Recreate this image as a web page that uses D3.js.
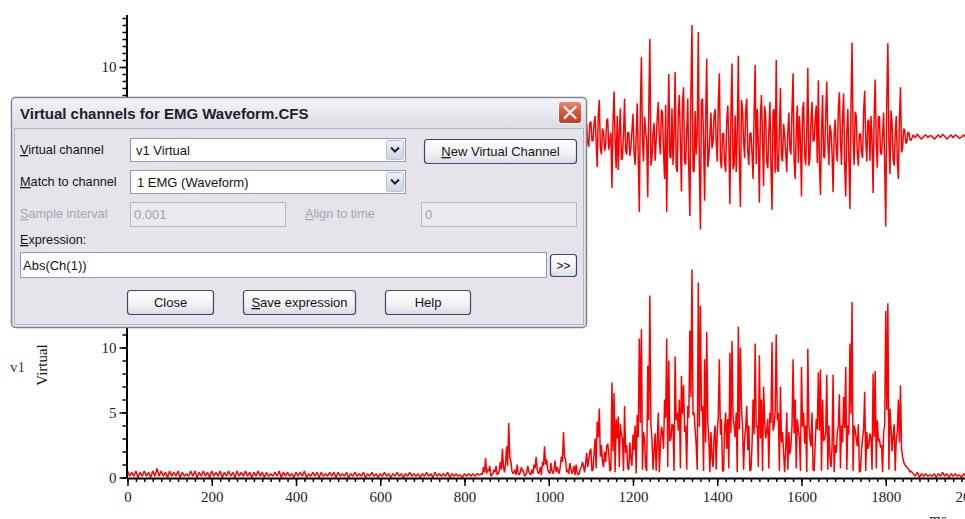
<!DOCTYPE html>
<html><head><meta charset="utf-8">
<script src="https://cdn.jsdelivr.net/npm/d3@7"></script>
<style>body{margin:0;background:#fff;overflow:hidden}svg{display:block}</style>
</head><body>
<svg id="c" width="965" height="519"></svg>
<script>
// ---------------- data (raw EMG, arbitrary units) ----------------
const quietStartMs = 0, quietStepMs = 5;
const quietEMG = [
 0.5,-0.1,0.4,0.1,-0.5,0,0.4,-0.1,0.5,0.1,-0.4,0,0.5,-0.1,0.7,0.1,-0.5,0.1,0.4,0,
 -0.5,0.1,0.4,-0.1,0.5,0,-0.4,0.1,0.3,-0.1,0.5,0.1,-0.5,0,0.4,-0.1,0.5,0.1,-0.4,0,
 0.5,-0.1,0.4,0.1,-0.5,0,0.4,-0.1,0.5,0.1,-0.4,0,0.5,-0.1,0.4,0.1,-0.5,0.1,0.4,0,
 -0.4,0.1,0.5,-0.1,0.4,0,-0.4,0.1,0.3,-0.1,0.4,0.1,-0.5,0,0.4,-0.1,0.4,0.1,-0.3,0,
 0.4,-0.1,0.4,0.1,-0.5,0,0.3,-0.1,0.4,0.1,-0.4,0,0.4,-0.1,0.3,0.1,-0.4,0.1,0.4,0,
 -0.4,0.1,0.3,-0.1,0.4,0,-0.3,0.1,0.4,-0.1,0.3,0.1,-0.4,0,0.3,-0.1,0.4,0.1,-0.3,0,
 0.3,-0.1,0.4,0.1,-0.3,0,0.3,-0.1,0.4,0.1,-0.3,0,0.3,-0.1,0.4,0.1,-0.3,0.1,0.3,0,
 -0.3,0.1,0.4,-0.1,0.3,0,-0.4,0.1,0.3,-0.1,0.3,0.1,-0.4,0,0.3,-0.1,0.3,0.1,-0.2,0,
 0.3,-0.1,0.3,0.1,-0.3,0.1,0.3,-0.2
];
const burstStartMs = 840, burstStepMs = 2.5;
const burstEMG = [
 0.3,-0.2,-0.8,0.4,1.5,-0.3,-0.6,0.5,0.9,-0.1,-0.2,0.3,0.6,-0.4,-0.9,0.2,0.3,-0.5,-1.2,0.6,2.2,-0.8,-0.4,1.1,2.4,-0.9,-4.2,1.6,1.3,-0.5,-0.3,0.4,0.6,-0.2,-1.0,0.3,0.2,-0.4,-0.8,0.5,
 0.5,-0.1,-0.2,0.3,0.9,-0.5,-0.3,0.2,0.6,-0.3,-1.0,0.7,1.6,-0.6,-0.3,0.4,0.8,-0.2,-1.2,0.9,2.4,-1.0,-1.4,0.6,0.4,-0.3,-1.1,0.5,0.3,-0.6,-1.3,0.4,0.8,-0.5,-0.3,0.9,1.6,-1.2,-3.5,1.5,
 1.4,-0.4,-0.6,0.3,1.1,-0.7,-0.3,0.5,0.9,-0.2,-1.0,0.4,0.2,-0.3,-0.7,0.8,1.2,-0.9,-0.4,1.0,1.9,-0.8,-1.4,2.0,2.2,-0.5,-0.6,1.8,3.0,-0.7,-4.3,3.1,5.3,-1.6,-2.5,1.2,0.8,-2.0,-1.2,2.4,
 2.6,-1.8,-0.5,0.6,-7.3,2.0,6.5,-0.4,-4.5,3.0,-4.7,0.8,4.1,-3.3,-3.0,0.5,5.5,-1.9,-2.5,0.7,0.6,-2.7,-1.5,0.9,3.3,-2.1,-4.0,0.3,4.8,-3.1,-10.7,4.2,11.4,-0.6,-3.5,2.9,0.8,-0.5,-8.6,4.4,
 14.0,-4.1,-3.0,0.6,2.0,-3.4,-0.5,2.7,5.0,-0.4,-2.5,3.9,3.5,-2.2,-6.0,4.6,-10.7,0.8,9.0,-2.8,-3.0,4.1,-4.0,0.5,9.3,-4.4,-5.0,3.6,6.0,-0.7,-7.8,4.9,7.1,-3.5,-4.0,0.6,5.5,-4.6,-11.3,6.2,
 16.0,-4.8,-5.0,3.7,-2.5,0.6,15.0,-3.9,-13.2,5.1,5.5,-0.5,-9.1,2.7,11.2,-4.3,-3.0,0.4,3.5,-1.6,-0.8,3.1,4.0,-0.6,-3.5,4.7,9.1,-3.3,-4.5,0.5,0.5,-3.8,-5.0,2.2,4.5,-0.7,-9.6,3.4,10.5,-4.6,
 -4.0,3.1,-5.0,0.4,11.6,-3.7,-10.0,5.3,4.0,-0.6,-3.0,3.8,5.5,-2.1,-4.0,0.5,0.6,-2.4,-6.0,3.3,10.3,-3.9,4.0,-0.8,-9.4,3.0,6.0,-0.5,-7.0,4.4,3.0,-3.6,-4.5,0.7,5.0,-4.2,-10.4,3.6,4.0,-5.1,
 11.0,-4.4,-5.0,0.5,7.0,-2.7,-3.5,1.9,0.4,-2.2,-5.0,0.6,3.5,-1.8,-2.5,4.0,9.1,-3.4,-6.0,0.7,4.5,-3.7,3.0,-0.5,-8.5,3.9,5.0,-2.6,-4.0,0.4,9.9,-4.1,-3.0,2.4,5.0,-0.6,-0.5,2.6,4.5,-3.7,
 8.1,-3.6,-8.3,0.5,6.0,-2.8,-3.0,3.4,7.9,-0.6,-4.0,1.7,0.8,-2.3,-7.9,0.4,2.5,-1.9,-3.5,4.0,6.4,-0.7,-4.0,2.7,6.2,-3.8,-8.5,0.6,4.0,-3.3,-10.3,4.9,13.5,-0.5,-4.0,3.6,3.0,-2.4,-4.1,0.4,
 0.5,-2.1,-3.0,3.7,6.6,-0.5,-3.5,2.2,2.5,-3.4,3.0,-0.6,-8.0,3.1,8.2,-0.7,-4.4,2.8,3.0,-2.3,-2.5,0.4,3.5,-4.0,-12.8,5.2,13.4,-0.6,-5.3,3.8,2.0,-3.2,-4.1,0.5,3.0,-3.5,-6.0,2.7,7.1,-2.2,
 -1.6,1.2,1.0,-0.9,-0.8,0.7,0.6,-0.4,-0.5
];
const tailStartMs = 1865, tailStepMs = 5;
const tailEMG = [
 0.3,-0.1,0.4,0,-0.3,0.1,0.3,-0.1,0.2,0.1,-0.3,0,0.3,-0.1,0.4,0.1,-0.3,0,0.3,-0.1,
 0.3,0.1,-0.2,0,0.3,-0.1,0.4
];
const xTickValues = [0,200,400,600,800,1000,1200,1400,1600,1800,2000];
const topYTickValues = [10];            // 0 and -10 lie under the dialog
const bottomYTickValues = [0,5,10];
const channelNumber = "v1";
const channelTitle = "Virtual";
const xUnits = "ms";

// ---------------- scales ----------------
const svg = d3.select("#c");
const x = d3.scaleLinear().domain([0, 2000]).range([127.5, 970]);
const yTop = d3.scaleLinear().domain([-17, 17.5]).range([256, 14.5]);
const yBot = d3.scaleLinear().domain([0, 17]).range([477.5, 256.5]);

const seg = (start, step, vals) => vals.map((v, i) => ({ t: start + i * step, v }));
const rawPts = [...seg(quietStartMs, quietStepMs, quietEMG),
                ...seg(burstStartMs, burstStepMs, burstEMG),
                ...seg(tailStartMs, tailStepMs, tailEMG)];
const absPts = rawPts.map(d => ({ t: d.t, v: Math.abs(d.v) }));   // Abs(Ch(1))

const serif = "'Liberation Serif','Times New Roman',serif";
const sans = "'Liberation Sans',Arial,sans-serif";

// ---------------- traces ----------------
svg.append("path").datum(rawPts)
  .attr("d", d3.line().x(d => x(d.t)).y(d => yTop(d.v)))
  .attr("fill", "none").attr("stroke", "#ff0000").attr("stroke-width", 1.5).attr("stroke-linejoin", "bevel");
svg.append("path").datum(absPts)
  .attr("d", d3.line().x(d => x(d.t)).y(d => yBot(d.v)))
  .attr("fill", "none").attr("stroke", "#ff0000").attr("stroke-width", 1.5).attr("stroke-linejoin", "bevel");

// ---------------- axes ----------------
function styleAxis(g, bold) {
  g.select(".domain").attr("stroke", "#000").attr("stroke-width", bold ? 2 : 0);
  g.selectAll(".tick line").attr("stroke", "#000").attr("stroke-width", 1.5);
  g.selectAll(".tick text").attr("font-family", serif).attr("font-size", 15).attr("fill", "#222");
}
function yAxis(scale, majors) {
  const [lo, hi] = scale.domain();
  const minors = d3.range(Math.ceil(lo), Math.floor(hi) + 1, 1);
  const gm = svg.append("g").attr("transform", "translate(126.5,0)")
    .call(d3.axisLeft(scale).tickValues(minors).tickSize(4).tickSizeOuter(0).tickFormat(""));
  styleAxis(gm, true);
  const gM = svg.append("g").attr("transform", "translate(126.5,0)")
    .call(d3.axisLeft(scale).tickValues(majors).tickSize(7).tickSizeOuter(0).tickPadding(3).tickFormat(d3.format("d")));
  styleAxis(gM, false);
}
yAxis(yTop, topYTickValues);
yAxis(yBot, bottomYTickValues);

const gxm = svg.append("g").attr("transform", "translate(0,478)")
  .call(d3.axisBottom(x).tickValues(d3.range(0, 2001, 20)).tickSize(4).tickSizeOuter(0).tickFormat(""));
styleAxis(gxm, true);
const gxM = svg.append("g").attr("transform", "translate(0,478)")
  .call(d3.axisBottom(x).tickValues(xTickValues).tickSize(8).tickSizeOuter(0).tickPadding(5).tickFormat(d3.format("d")));
styleAxis(gxM, false);

svg.append("text").attr("x", 10).attr("y", 372).text(channelNumber)
  .attr("font-family", serif).attr("font-size", 15).attr("fill", "#23406e");
svg.append("text").attr("transform", "translate(47,365) rotate(-90)").attr("text-anchor", "middle").text(channelTitle)
  .attr("font-family", serif).attr("font-size", 15).attr("fill", "#111");
svg.append("text").attr("x", 938).attr("y", 524).attr("text-anchor", "middle").text(xUnits)
  .attr("font-family", serif).attr("font-size", 15).attr("fill", "#222");

// ---------------- dialog overlay ----------------
const defs = svg.append("defs");
function grad(id, stops) {
  const g = defs.append("linearGradient").attr("id", id).attr("x1", 0).attr("y1", 0).attr("x2", 0).attr("y2", 1);
  stops.forEach(([o, c]) => g.append("stop").attr("offset", o).attr("stop-color", c));
}
grad("tb", [[0, "#f4f4f7"], [1, "#dcdce3"]]);
grad("btn", [[0, "#ffffff"], [0.6, "#f1f1f4"], [1, "#d9dae2"]]);
grad("cls", [[0, "#ec8b74"], [0.5, "#d8533b"], [1, "#c23b24"]]);
grad("arr", [[0, "#eef1f8"], [1, "#cfd6e6"]]);

const dlg = svg.append("g");
dlg.append("rect").attr("x", 11.5).attr("y", 97.5).attr("width", 575).attr("height", 230).attr("rx", 4)
  .attr("fill", "#e6e6eb").attr("stroke", "#7c8193").attr("stroke-width", 1.5);
dlg.append("rect").attr("x", 12.5).attr("y", 98.5).attr("width", 573).attr("height", 29).attr("rx", 3)
  .attr("fill", "url(#tb)");
dlg.append("rect").attr("x", 14.5).attr("y", 128.5).attr("width", 569).attr("height", 196)
  .attr("fill", "#e4e4ea").attr("stroke", "#b3b5c1");
dlg.append("text").attr("x", 20).attr("y", 119).text("Virtual channels for EMG Waveform.CFS")
  .attr("font-family", sans).attr("font-weight", "bold").attr("font-size", 15).attr("fill", "#1d1d2b");
dlg.append("rect").attr("x", 558.5).attr("y", 101.5).attr("width", 23).attr("height", 22).attr("rx", 3)
  .attr("fill", "url(#cls)").attr("stroke", "#ffffff").attr("stroke-width", 1);
dlg.append("path").attr("d", "M564.5,107 L575.5,118 M575.5,107 L564.5,118")
  .attr("stroke", "#fff").attr("stroke-width", 2.2).attr("stroke-linecap", "round");

function label(x0, y0, parts, disabled) {
  const t = dlg.append("text").attr("x", x0).attr("y", y0)
    .attr("font-family", sans).attr("font-size", 12.7).attr("fill", disabled ? "#a7a8b1" : "#141414");
  parts.forEach((p, i) => {
    const ts = t.append("tspan").text(p);
    if (i === 0 && parts.length > 1) ts.attr("text-decoration", "underline");
  });
  return t;
}
function field(x0, y0, w, h, txt, opts = {}) {
  dlg.append("rect").attr("x", x0 + 0.5).attr("y", y0 + 0.5).attr("width", w).attr("height", h)
    .attr("fill", opts.disabled ? "#e9e9ee" : "#ffffff").attr("stroke", opts.disabled ? "#b7b8c3" : "#8d9bb5");
  dlg.append("text").attr("x", x0 + (opts.pad || 5)).attr("y", y0 + h / 2 + 5).text(txt)
    .attr("font-family", sans).attr("font-size", 13).attr("fill", opts.disabled ? "#a2a3ab" : "#141414");
  if (opts.combo) {
    const ax = x0 + w - 19, ay = y0 + 2;
    dlg.append("rect").attr("x", ax + 0.5).attr("y", ay + 0.5).attr("width", 17).attr("height", h - 4).attr("rx", 2)
      .attr("fill", "url(#arr)").attr("stroke", "#b6bfd3");
    const cx = ax + 9, cy = ay + (h - 4) / 2;
    dlg.append("path").attr("d", `M${cx - 4},${cy - 2} L${cx},${cy + 2} L${cx + 4},${cy - 2}`)
      .attr("fill", "none").attr("stroke", "#1e2330").attr("stroke-width", 2);
  }
}
function button(x0, y0, w, h, parts, fs) {
  dlg.append("rect").attr("x", x0 + 0.5).attr("y", y0 + 0.5).attr("width", w).attr("height", h).attr("rx", 3)
    .attr("fill", "url(#btn)").attr("stroke", "#3b4a6b").attr("stroke-width", 1.2);
  const t = dlg.append("text").attr("x", x0 + w / 2 + 0.5).attr("y", y0 + h / 2 + 5).attr("text-anchor", "middle")
    .attr("font-family", sans).attr("font-size", fs || 13).attr("fill", "#141414");
  parts.forEach((p, i) => {
    const ts = t.append("tspan").text(p);
    if (i === 0 && parts.length > 1) ts.attr("text-decoration", "underline");
  });
}

label(20, 154, ["V", "irtual channel"]);
field(130, 138, 275, 23, "v1 Virtual", { combo: true, pad: 6 });
button(424, 139, 152, 24, ["N", "ew Virtual Channel"]);
label(20, 186, ["M", "atch to channel"]);
field(130, 170, 275, 23, "1 EMG (Waveform)", { combo: true, pad: 7 });
label(20, 218, ["S", "ample interval"], true);
field(130, 202, 155, 24, "0.001", { disabled: true, pad: 4 });
label(305, 218, ["A", "lign to time"], true);
field(421, 202, 155, 24, "0", { disabled: true, pad: 4 });
label(20, 244, ["E", "xpression:"]);
field(20, 252, 526, 25, "Abs(Ch(1))", { pad: 3 });
button(550, 254, 26, 22, [">>"], 12);
button(127, 290, 86, 24, ["Close"]);
button(243, 290, 112, 24, ["S", "ave expression"]);
button(385, 290, 85, 24, ["Help"]);
</script>
</body></html>
